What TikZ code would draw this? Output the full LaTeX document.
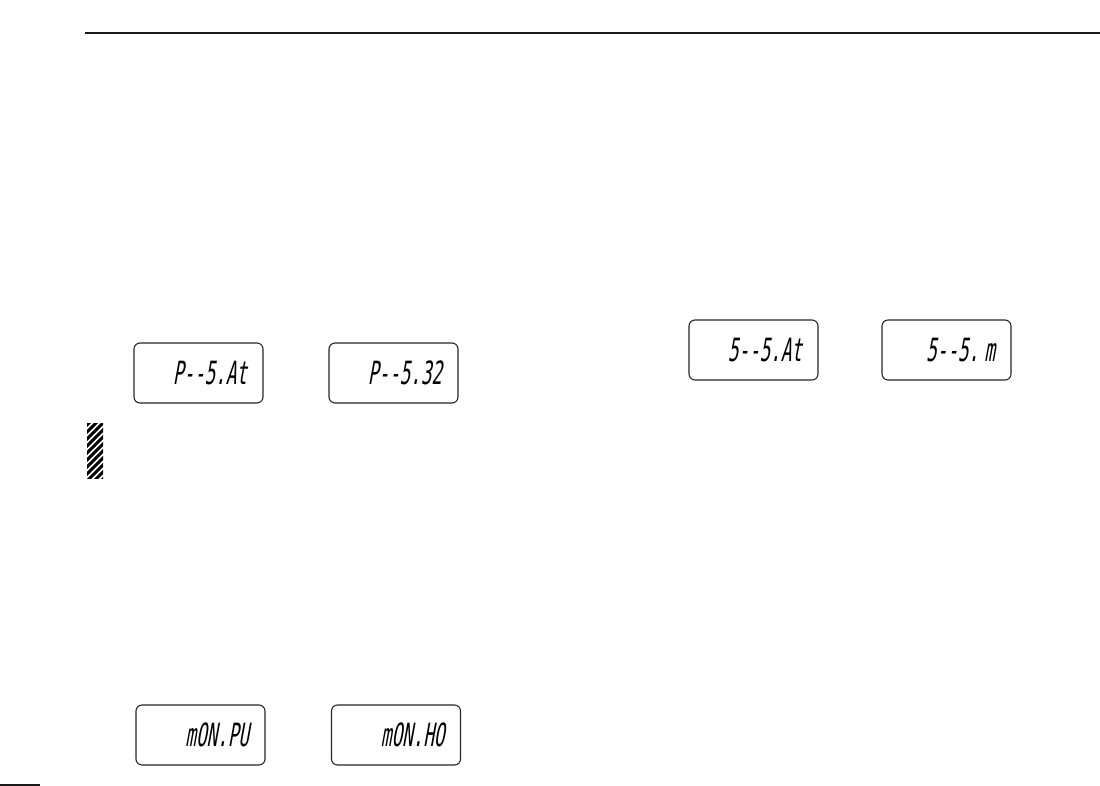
\documentclass[tikz,border=0pt]{standalone}
\usepackage{fontspec}
\newfontfamily\lcdfont[FakeSlant=0.18,FakeStretch=0.55]{DejaVu Sans Mono}
\usetikzlibrary{positioning}

\begin{document}
\begin{tikzpicture}[
  x=1pt, y=-1pt,
  lcd/.style={draw=black!85, line width=1.1pt, rounded corners=6pt, fill=white,
              minimum width=129pt, minimum height=60pt, inner xsep=16pt, inner ysep=0pt,
              text width=97pt, align=right, font=\lcdfont\fontsize{32}{32}\selectfont},
  rule/.style={draw=black!90, line width=2pt},
]
\useasboundingbox (0,0) rectangle (1100,786);

% ---- page rules ----
\coordinate (rl) at (85,33.5);
\coordinate (rr) at (1100,33.5);
\draw[rule] (rl) -- (rr);
\coordinate (fl) at (0,785);
\coordinate (fr) at (40,785);
\draw[rule] (fl) -- (fr);

% ---- displays, upper left ----
\node[lcd] (psat) at (198.5,373) {P-{}-5.At};
\node[lcd] (ps32) at (393.5,373) {P-{}-5.32};

% ---- displays, upper right ----
\node[lcd] (ssat) at (753.5,350) {5-{}-5.At};
\node[lcd] (ssm)  at (946.5,350) {5-{}-5.\,m};

% ---- displays, bottom ----
\node[lcd] (monpu) at (200.5,735) {mON.PU};
\node[lcd] (monho) at (396,735)   {mON.HO};

% ---- hatched note mark ----
\begin{scope}
  \clip (87,423) rectangle (103,478);
  \foreach \k in {0,...,11}
    \draw[line width=3pt] (80,432+7*\k) -- (110,402+7*\k);
\end{scope}
\end{tikzpicture}
\end{document}
